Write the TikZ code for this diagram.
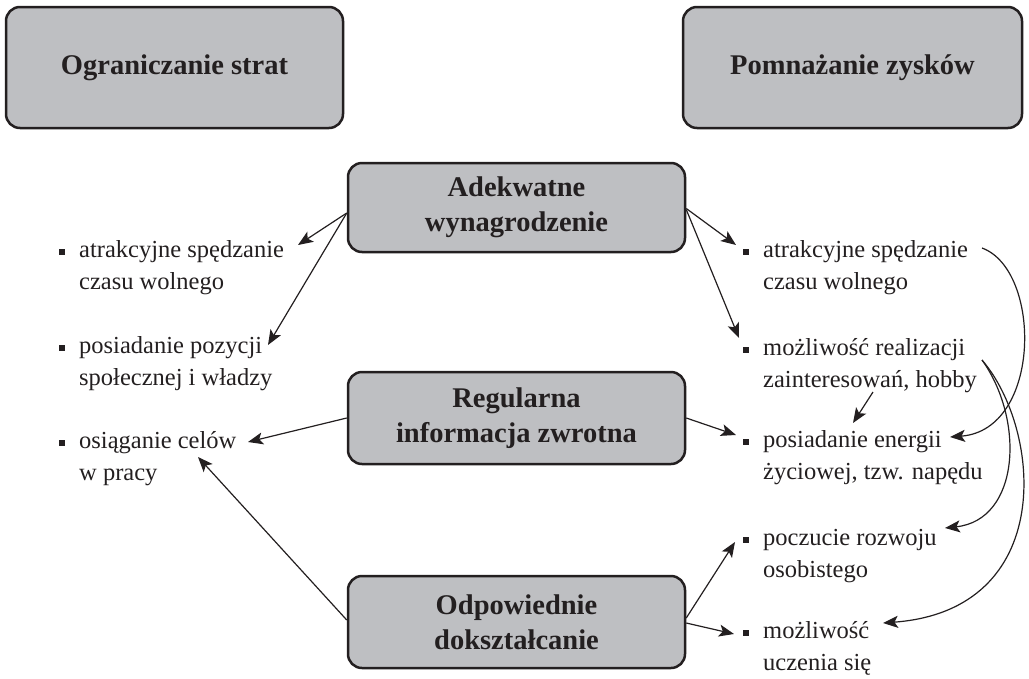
\documentclass[tikz,border=0pt]{standalone}
\usepackage{fontspec}
\setmainfont{Liberation Serif}
\usetikzlibrary{arrows.meta,calc}
\definecolor{boxgray}{RGB}{190,191,194}
\definecolor{ink}{RGB}{35,31,32}
\newcommand{\itm}[2]{\vtop{\baselineskip=32pt\hbox{\llap{\rule[2.5pt]{6pt}{6pt}\hspace{14pt}}#1}\hbox{#2}}}
\begin{document}
\begin{tikzpicture}[x=1pt,y=-1pt,
  box/.style={draw=ink, line width=2.5pt, fill=boxgray, rounded corners=14pt,
    minimum width=337pt, inner sep=0pt, align=center,
    font=\fontsize{28.5}{35}\selectfont\bfseries, text=ink},
  item/.style={anchor=base west, inner sep=0pt, font=\fontsize{24.5}{32}\selectfont, text=ink},
  arr/.style={draw=ink, line width=1.2pt, -{Stealth[length=15pt,width=12pt,inset=3.5pt]}}]
\useasboundingbox (0,0) rectangle (1029,678);

\node[box, minimum height=121pt] (OS) at (174.5,67.5) {Ograniczanie strat};
\node[box, minimum height=121pt, minimum width=339pt] (PZ) at (852.5,67.5) {Pomnażanie zysków};
\node[box, minimum height=89pt] (A) at (516.5,207.5) {Adekwatne\\wynagrodzenie};
\node[box, minimum height=92pt] (R) at (516.5,418) {Regularna\\informacja zwrotna};
\node[box, minimum height=92pt] (O) at (516.5,622) {Odpowiednie\\dokształcanie};

\node[item] (la1) at (79,257) {\itm{atrakcyjne spędzanie}{czasu wolnego}};
\node[item] (la2) at (79,353) {\itm{posiadanie pozycji}{społecznej i władzy}};
\node[item] (la3) at (79,448) {\itm{osiąganie celów}{w pracy}};

\node[item] (ra1) at (763,257) {\itm{atrakcyjne spędzanie}{czasu wolnego}};
\node[item] (ra2) at (763,355) {\itm{możliwość realizacji}{zainteresowań, hobby}};
\node[item] (ra3) at (763,447) {\itm{posiadanie energii}{życiowej, tzw. napędu}};
\node[item] (ra4) at (763,545) {\itm{poczucie rozwoju}{osobistego}};
\node[item] (ra5) at (763,638) {\itm{możliwość}{uczenia się}};

\draw[arr] ($(A.west)+(0,5.5)$) -- ($(la1.base west)+(219,-12)$);
\draw[arr] ($(A.west)+(0,5.5)$) -- ($(la2.base west)+(189,-8)$);
\draw[arr] ($(A.east)+(0,1)$) -- ($(ra1.base west)+(-27,-12)$);
\draw[arr] ($(A.east)+(0,2)$) -- ($(ra2.base west)+(-24,-17)$);
\draw[arr] (R.west) -- ($(la3.base west)+(169,-6)$);
\draw[arr] (R.east) -- ($(ra3.base west)+(-27,-12)$);
\draw[arr] ($(O.east)+(0,-4)$) -- ($(ra4.base west)+(-28,-3)$);
\draw[arr] ($(O.east)+(0,1)$) -- ($(ra5.base west)+(-29,-4)$);
\draw[arr] ($(O.west)+(0,-2)$) -- ($(la3.base west)+(119,9)$);
\draw[arr] ($(ra2.base west)+(110,37)$) -- ($(ra3.base west)+(90,-24)$);

\draw[arr] ($(ra1.base west)+(219,-9)$) .. controls (1042,270) and (1042,430) .. ($(ra3.base west)+(187,-10)$);
\draw[arr] ($(ra2.base west)+(219,5)$) .. controls (1025,420) and (1020,520) .. ($(ra4.base west)+(182,-17)$);
\draw[arr] ($(ra2.base west)+(219,5)$) .. controls (1042,430) and (1057,610) .. ($(ra5.base west)+(120,-15)$);
\end{tikzpicture}
\end{document}
